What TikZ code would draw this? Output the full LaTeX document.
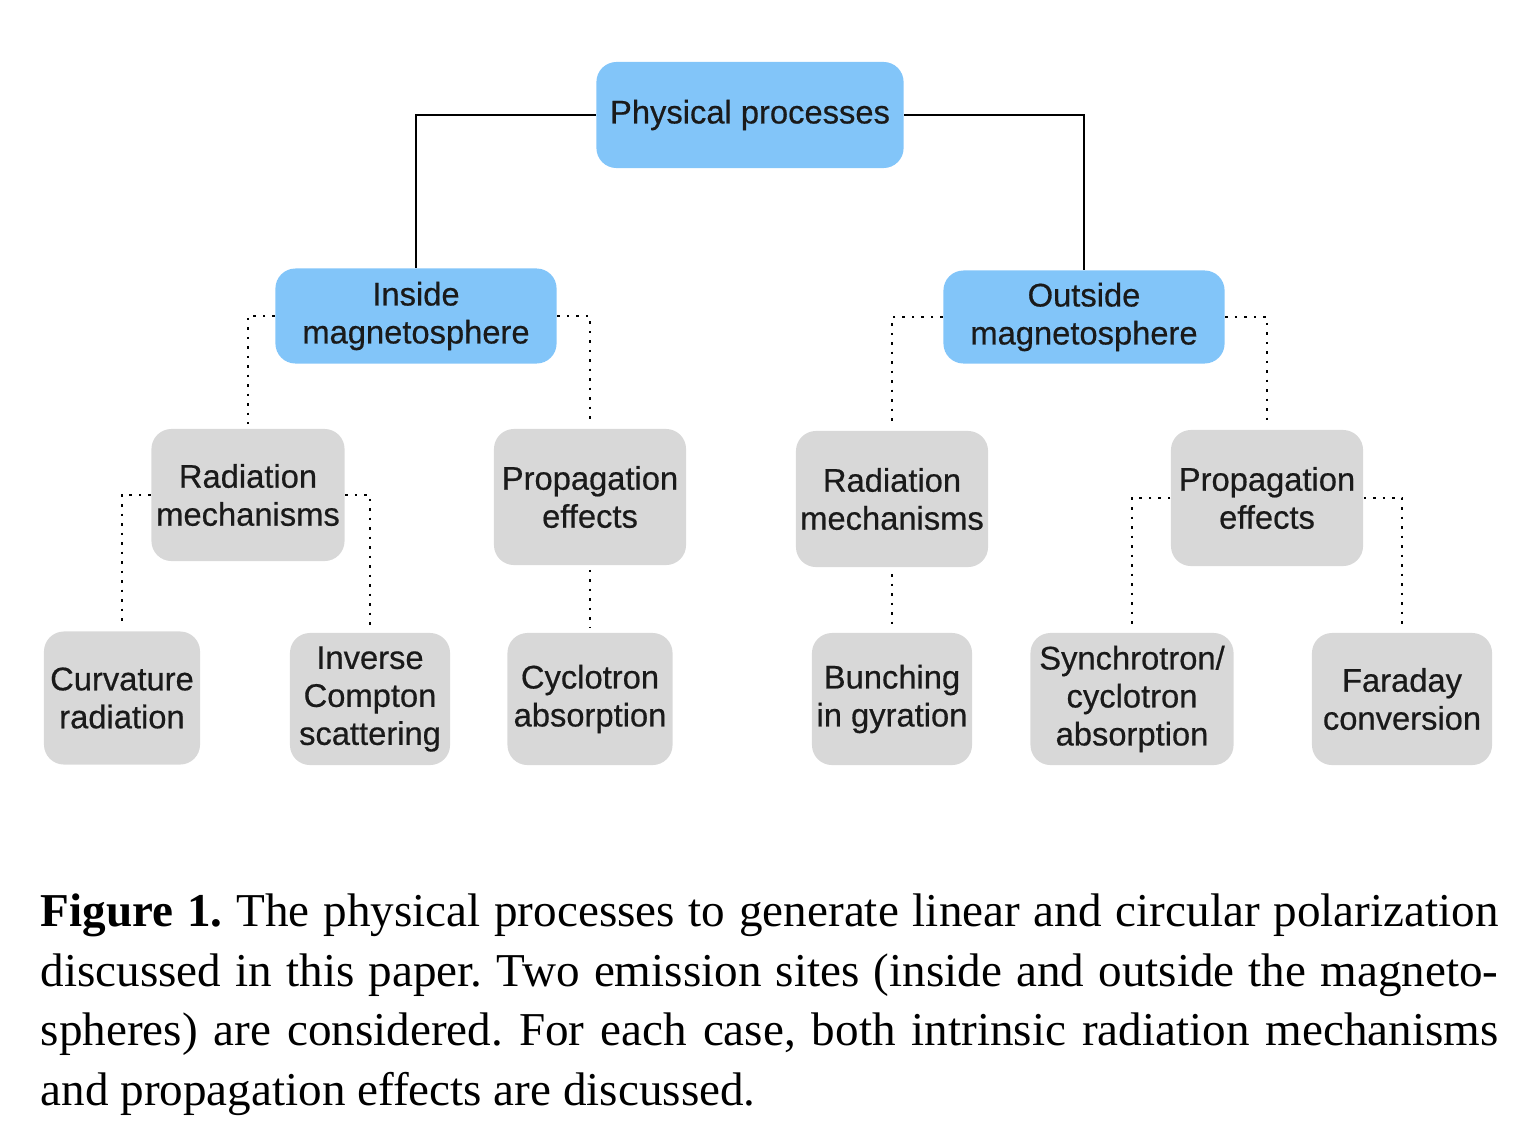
\documentclass[tikz,border=0pt]{standalone}
\usepackage{fontspec}
\setmainfont{Liberation Serif}
\setsansfont{Liberation Sans}
\newfontfamily\boxfont[FakeBold=0.5]{Liberation Sans}
\usepackage{tikz}
\usetikzlibrary{positioning}
\definecolor{skyb}{HTML}{82C5F9}
\definecolor{greyb}{HTML}{D8D8D8}
\definecolor{inkt}{HTML}{1A1A1A}
\tikzset{
  procbox/.style={rectangle, rounded corners=0.2cm, fill=#1, text=inkt,
                  align=center, inner sep=0pt,
                  font=\boxfont\fontsize{9.3}{10.8}\selectfont},
  solidlink/.style={line width=0.6pt, draw=black},
  dotlink/.style={line width=0.7pt, dotted, shorten >=1.2pt},
}

\begin{document}
\begin{tikzpicture}[x=0.01cm, y=-0.01cm]
    \useasboundingbox (0,0) rectangle (1537,1142);
    % top of the tree
    \node[procbox=skyb, minimum width=3.07cm, minimum height=1.06cm] (pp) at (750,115)
      {Physical processes};
    \node[procbox=skyb, minimum width=2.81cm, minimum height=0.95cm] (inm) at (416,316)
      {Inside\\magnetosphere};
    \node[procbox=skyb, minimum width=2.81cm, minimum height=0.93cm] (outm) at (1084,317)
      {Outside\\magnetosphere};
    % second level
    \node[procbox=greyb, minimum width=1.93cm, minimum height=1.32cm] (radl) at (248,495)
      {Radiation\\mechanisms};
    \node[procbox=greyb, minimum width=1.92cm, minimum height=1.36cm] (propl) at (590,497)
      {Propagation\\effects};
    \node[procbox=greyb, minimum width=1.92cm, minimum height=1.36cm] (radr) at (892,499)
      {Radiation\\mechanisms};
    \node[procbox=greyb, minimum width=1.92cm, minimum height=1.36cm] (propr) at (1267,498)
      {Propagation\\effects};
    % leaves
    \node[procbox=greyb, minimum width=1.56cm, minimum height=1.33cm] (curv) at (122,698)
      {Curvature\\radiation};
    \node[procbox=greyb, minimum width=1.60cm, minimum height=1.32cm] (icomp) at (370,699)
      {Inverse\\Compton\\scattering};
    \node[procbox=greyb, minimum width=1.65cm, minimum height=1.32cm] (cycl) at (590,699)
      {Cyclotron\\absorption};
    \node[procbox=greyb, minimum width=1.60cm, minimum height=1.32cm] (bunch) at (892,699)
      {Bunching\\in gyration};
    \node[procbox=greyb, minimum width=2.03cm, minimum height=1.32cm] (sync) at (1132,699)
      {Synchrotron/\\cyclotron\\absorption};
    \node[procbox=greyb, minimum width=1.80cm, minimum height=1.32cm] (fara) at (1402,699)
      {Faraday\\conversion};
    % links
    \draw[solidlink] (pp.west) -| (inm.north);
    \draw[solidlink] (pp.east) -| (outm.north);
    \draw[dotlink] (inm.west) -| (radl.north);
    \draw[dotlink] (inm.east) -| (propl.north);
    \draw[dotlink] (outm.west) -| (radr.north);
    \draw[dotlink] (outm.east) -| (propr.north);
    \draw[dotlink] (radl.west) -| (curv.north);
    \draw[dotlink] (radl.east) -| (icomp.north);
    \draw[dotlink, shorten <=1.2pt] (propl.south) -- (cycl.north);
    \draw[dotlink, shorten <=1.8pt] (radr.south) -- (bunch.north);
    \draw[dotlink] (propr.west) -| (sync.north);
    \draw[dotlink] (propr.east) -| (fara.north);
    % caption
    \node[anchor=north west, inner sep=0pt, text width=14.57cm, align=justify,
          font=\fontsize{13.4}{17}\selectfont\frenchspacing] (cap) at (40,893)
      {\textbf{Figure 1.} The physical processes to generate linear and circular polarization\linebreak
       discussed in this paper. Two emission sites (inside and outside the magneto-\linebreak
       spheres) are considered. For each case, both intrinsic radiation mechanisms\linebreak
       and propagation effects are discussed.};
\end{tikzpicture}
\end{document}
